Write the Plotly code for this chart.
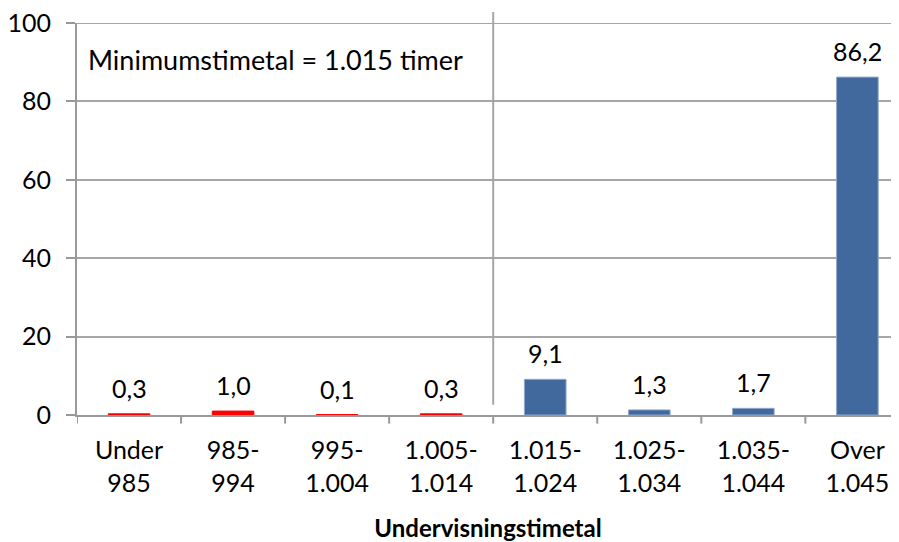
import plotly.graph_objects as go

categories = ["Under<br>985", "985-<br>994", "995-<br>1.004", "1.005-<br>1.014",
              "1.015-<br>1.024", "1.025-<br>1.034", "1.035-<br>1.044", "Over<br>1.045"]
values = [0.3, 1.0, 0.1, 0.3, 9.1, 1.3, 1.7, 86.2]
below_minimum = [True, True, True, True, False, False, False, False]
y_ticks = [0, 20, 40, 60, 80, 100]
x_title = "Undervisningstimetal"
note_text = "Minimumstimetal = 1.015 timer"
threshold_pos = 3.5

RED = "#FF0000"
BLUE = "#41699D"
FONT = "Lato"
FS = 25

colors = [RED if b else BLUE for b in below_minimum]
line_colors = [RED if b else "#8FA8CB" for b in below_minimum]
xs = list(range(len(categories)))

fig = go.Figure()
fig.add_trace(go.Bar(
    x=xs,
    y=values,
    width=0.4,
    marker=dict(color=colors, line=dict(color=line_colors, width=1)),
    hoverinfo="skip",
))

for x, v in zip(xs, values):
    fig.add_annotation(x=x, y=v, xref="x", yref="y",
                       text=f"{v:.1f}".replace(".", ","),
                       showarrow=False, yanchor="bottom", yshift=9,
                       font=dict(family=FONT, size=FS, color="#000000"))

# page body adds 8px offset; compensate with figure size / margins
fig.update_layout(
    width=891, height=534,
    margin=dict(l=69, r=0, t=15, b=127, autoexpand=False),
    paper_bgcolor="white", plot_bgcolor="white",
    showlegend=False,
    font=dict(family=FONT, size=FS, color="#000000"),
    xaxis=dict(
        range=[-0.5, 7.4],
        tickmode="array",
        tickvals=xs,
        ticktext=categories,
        showgrid=False,
        showline=True, linecolor="#999999", linewidth=2,
        ticks="",
        ticklabelstandoff=12,
        ticklabeloverflow="allow",
        automargin=False,
        tickfont=dict(family=FONT, size=FS),
        title=dict(text="<b>" + x_title + "</b>", font=dict(family=FONT, size=24), standoff=26),
        zeroline=False,
    ),
    yaxis=dict(
        range=[0, 100],
        tickvals=y_ticks,
        showgrid=True, gridcolor="#A6A6A6", gridwidth=2,
        showline=True, linecolor="#999999", linewidth=2,
        ticks="outside", ticklen=9, tickcolor="#999999", tickwidth=2,
        ticklabelstandoff=10,
        ticklabeloverflow="allow",
        automargin=False,
        tickfont=dict(family=FONT, size=FS),
        zeroline=False,
    ),
)

# boundary tick marks on the category axis
for i in range(len(categories)):
    fig.add_shape(type="line", xref="x", yref="paper",
                  x0=i - 0.5, x1=i - 0.5, y0=0, y1=-0.022,
                  line=dict(color="#999999", width=2))

# gridline at the top of the value axis
fig.add_shape(type="line", xref="paper", yref="y",
              x0=0, x1=1, y0=y_ticks[-1], y1=y_ticks[-1],
              line=dict(color="#A6A6A6", width=2), layer="below")

# separator at the minimum
fig.add_shape(type="line", xref="x", yref="paper",
              x0=threshold_pos, x1=threshold_pos, y0=0.026, y1=1.028,
              line=dict(color="#A6A6A6", width=2))

fig.add_annotation(text=note_text, xref="paper", yref="y",
                   x=0.011, y=90.6, xanchor="left", yanchor="middle",
                   showarrow=False, font=dict(family=FONT, size=27))

fig.write_html("out.html")
